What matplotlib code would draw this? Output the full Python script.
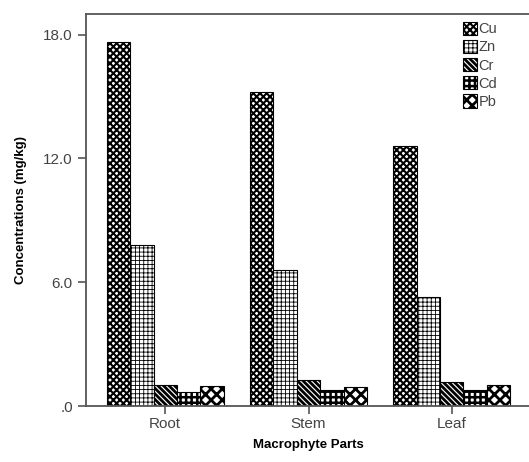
import numpy as np
import matplotlib
matplotlib.use('Agg')
import matplotlib.pyplot as plt

parts = ['Root', 'Stem', 'Leaf']
metals = ['Cu', 'Zn', 'Cr', 'Cd', 'Pb']
cu = [17.65, 15.2, 12.6]
zn = [7.8, 6.6, 5.3]
cr = [1.02, 1.28, 1.16]
cd = [0.68, 0.77, 0.77]
pb = [0.97, 0.92, 1.02]

plt.rcParams['font.family'] = ['Liberation Sans', 'DejaVu Sans']

hatches = ['xxxxx', '++++', '\\\\\\\\\\\\', '+++', 'xxx']
hlw = [1.5, 0.6, 2.0, 1.8, 2.0]

fig = plt.figure(figsize=(5.29, 4.62), dpi=100)
ax = fig.add_axes([86/529, 1-406/462, (531-86)/529, (406-14)/462])

x = np.arange(len(parts))
w = 0.163
series = [cu, zn, cr, cd, pb]
for i, (vals, name) in enumerate(zip(series, metals)):
    with plt.rc_context({'hatch.linewidth': hlw[i]}):
        ax.bar(x + (i - 2) * w, vals, w, facecolor='white', edgecolor='black',
               hatch=hatches[i], linewidth=0.8, label=name)

ax.set_xlim(-0.553, 2.553)
ax.set_ylim(0, 19)
ax.set_yticks([0, 6, 12, 18])
ax.set_yticklabels(['.0', '6.0', '12.0', '18.0'])
ax.set_xticks(x)
ax.set_xticklabels(parts)
for s in ax.spines.values():
    s.set_color('#555555')
    s.set_linewidth(1.3)
ax.tick_params(axis='both', colors='#555555', length=6, width=1.2, labelsize=11,
               labelcolor='#444444')
ax.tick_params(axis='x', pad=2)
ax.set_ylabel('Concentrations (mg/kg)', fontweight='bold', fontsize=9.5, labelpad=12)
ax.set_xlabel('Macrophyte Parts', fontweight='bold', fontsize=9.5, labelpad=6)

leg = ax.legend(loc='upper left', bbox_to_anchor=(0.835, 0.995), frameon=False,
                handlelength=0.9, handleheight=1.0, handletextpad=0.15,
                labelspacing=0.25, fontsize=10.5, borderaxespad=0)
for t in leg.get_texts():
    t.set_color('#444444')
for h, lw in zip(leg.legend_handles, hlw):
    if hasattr(h, 'set_hatch_linewidth'):
        h.set_hatch_linewidth(lw)

fig.savefig('out.png', dpi=100)
